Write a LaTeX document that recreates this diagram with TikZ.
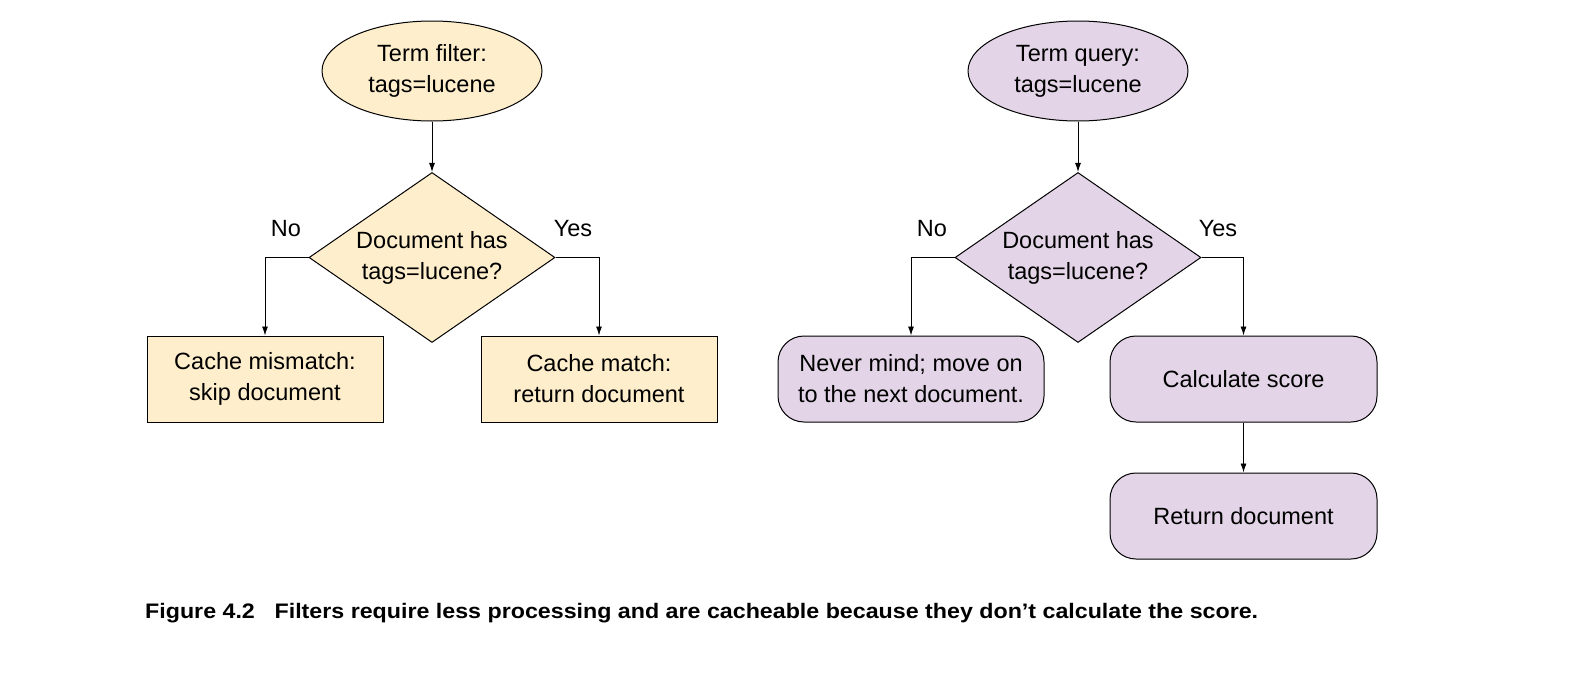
\documentclass[tikz,border=0pt]{standalone}
\usepackage{fontspec}
\setmainfont{Liberation Sans}
\usetikzlibrary{shapes.geometric,arrows.meta}
\definecolor{yfill}{HTML}{FEEECB}
\definecolor{pfill}{HTML}{E3D5E7}
\tikzset{
  base/.style={draw=black, line width=1pt, align=center, font=\fontsize{23.5}{31}\selectfont, inner sep=0pt},
  ell/.style={base, ellipse, minimum width=220pt, minimum height=100pt},
  dia/.style={base, diamond, aspect=1.447, minimum width=246pt, minimum height=170pt},
  sq/.style={base, rectangle, minimum width=236pt, minimum height=86pt},
  rnd/.style={base, rectangle, rounded corners=26pt, minimum height=86pt},
  arr/.style={-{Latex[length=9pt,width=6pt]}, line width=0.9pt},
  lbl/.style={font=\fontsize{23.5}{28}\selectfont, inner sep=0pt}
}
\begin{document}
\begin{tikzpicture}[x=1pt,y=-1pt]
\useasboundingbox (0,0) rectangle (1570,672);
% left
\node[ell, fill=yfill] (tf) at (432,71) {Term filter:\\tags=lucene};
\node[dia, fill=yfill] (d1) at (432,257.5) {Document has\\tags=lucene?};
\node[sq, fill=yfill] (cm) at (265,379) {Cache mismatch:\\skip document};
\node[sq, fill=yfill] (ch) at (599,379) {Cache match:\\return document};
\draw[arr] (tf) -- (d1);
\draw[arr] (d1.west) -| (cm.north);
\draw[arr] (d1.east) -| (ch.north);
\node[lbl] (no1) at (286,229) {No};
\node[lbl] (yes1) at (573,229) {Yes};
% right
\node[ell, fill=pfill] (tq) at (1078,71) {Term query:\\tags=lucene};
\node[dia, fill=pfill] (d2) at (1078,257.5) {Document has\\tags=lucene?};
\node[rnd, fill=pfill, minimum width=266pt] (nm) at (911,379) {Never mind; move on\\to the next document.};
\node[rnd, fill=pfill, minimum width=267pt] (cs) at (1243.5,379) {Calculate score};
\node[rnd, fill=pfill, minimum width=267pt] (rd) at (1243.5,516) {Return document};
\draw[arr] (tq) -- (d2);
\draw[arr] (d2.west) -| (nm.north);
\draw[arr] (d2.east) -| (cs.north);
\draw[arr] (cs) -- (rd);
\node[lbl] (no2) at (932,229) {No};
\node[lbl] (yes2) at (1218,229) {Yes};
% caption
\node[anchor=base west, inner sep=0pt, font=\bfseries\fontsize{21}{24}\selectfont] (cap) at (145,618)
  {\resizebox{1113pt}{\height}{Figure 4.2\hspace{12pt} Filters require less processing and are cacheable because they don’t calculate the score.}};
\end{tikzpicture}
\end{document}
